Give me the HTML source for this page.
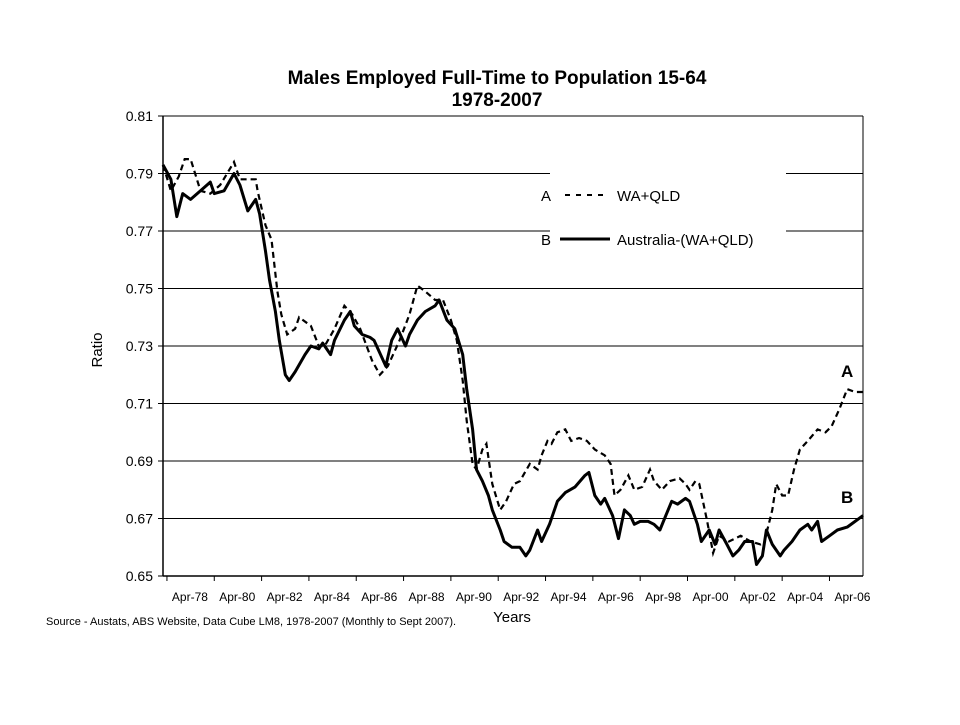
<!DOCTYPE html>
<html><head><meta charset="utf-8"><style>
body{margin:0;background:#fff;font-family:"Liberation Sans",Arial,sans-serif}
svg text{font-family:"Liberation Sans",Arial,sans-serif}
</style></head><body>
<svg width="960" height="720" viewBox="0 0 960 720">
<g id="g"></g>
</svg>
<script>
const yTicks=[0.65,0.67,0.69,0.71,0.73,0.75,0.77,0.79,0.81];
const xTickLabels=["Apr-78","Apr-80","Apr-82","Apr-84","Apr-86","Apr-88","Apr-90","Apr-92","Apr-94","Apr-96","Apr-98","Apr-00","Apr-02","Apr-04","Apr-06"];
const monthsA=[0,4,8,11,14,19,24,29,36,39,44,47,48,52,55,58,60,63,67,69,75,79,82,87,92,96,100,106,110,114,118,120,125,129,133,138,142,146,149,152,154,157,159,162,164,167,171,174,178,181,186,190,192,195,197,200,204,207,211,215,219,224,227,229,232,236,239,243,247,249,253,257,262,265,267,270,272,276,279,282,287,293,298,303,305,309,311,314,317,320,323,327,332,336,339,343,347,351,355];
const valuesA=[0.793,0.784,0.789,0.795,0.795,0.784,0.783,0.786,0.794,0.788,0.788,0.788,0.784,0.772,0.767,0.749,0.741,0.734,0.736,0.740,0.737,0.730,0.730,0.736,0.744,0.741,0.736,0.725,0.720,0.723,0.729,0.732,0.741,0.751,0.749,0.746,0.746,0.739,0.732,0.718,0.704,0.689,0.687,0.694,0.696,0.682,0.673,0.676,0.682,0.683,0.689,0.687,0.692,0.697,0.696,0.700,0.701,0.697,0.698,0.697,0.694,0.692,0.689,0.678,0.680,0.685,0.680,0.681,0.687,0.683,0.680,0.683,0.684,0.682,0.680,0.683,0.682,0.669,0.658,0.664,0.662,0.664,0.662,0.661,0.662,0.673,0.682,0.678,0.678,0.687,0.694,0.697,0.701,0.700,0.702,0.708,0.715,0.714,0.714];
const monthsB=[0,4,7,10,14,19,24,26,31,36,39,43,47,49,52,54,57,59,62,64,67,72,75,79,81,85,87,92,95,97,101,105,107,113,116,119,123,125,129,133,138,140,144,148,152,154,157,159,162,165,167,171,173,177,181,184,186,190,192,196,200,204,209,214,216,219,222,224,228,231,234,237,239,242,246,249,252,255,258,261,265,267,271,273,277,280,282,286,289,292,295,299,301,304,306,309,313,315,319,323,327,329,332,334,338,342,347,351,355];
const valuesB=[0.793,0.788,0.775,0.783,0.781,0.784,0.787,0.783,0.784,0.790,0.786,0.777,0.781,0.776,0.763,0.753,0.742,0.732,0.720,0.718,0.721,0.727,0.730,0.729,0.731,0.727,0.732,0.739,0.742,0.737,0.734,0.733,0.732,0.723,0.732,0.736,0.730,0.734,0.739,0.742,0.744,0.746,0.739,0.736,0.727,0.715,0.701,0.687,0.683,0.678,0.673,0.666,0.662,0.660,0.660,0.657,0.659,0.666,0.662,0.668,0.676,0.679,0.681,0.685,0.686,0.678,0.675,0.677,0.671,0.663,0.673,0.671,0.668,0.669,0.669,0.668,0.666,0.671,0.676,0.675,0.677,0.676,0.668,0.662,0.666,0.661,0.666,0.661,0.657,0.659,0.662,0.662,0.654,0.657,0.666,0.661,0.657,0.659,0.662,0.666,0.668,0.666,0.669,0.662,0.664,0.666,0.667,0.669,0.671];

const L=163,R=863,T=116,B=576,NM=355;
const X=m=>L+m*(R-L)/NM;
const Y=v=>T+(0.81-v)/(0.16)*(B-T);
const g=document.getElementById('g');
const NS="http://www.w3.org/2000/svg";
function mk(tag,at,txt){const e=document.createElementNS(NS,tag);for(const k in at)e.setAttribute(k,at[k]);if(txt!=null)e.textContent=txt;g.appendChild(e);return e;}

let e;
e=mk('text',{x:497,y:84,'text-anchor':'middle','font-size':19,'font-weight':'bold'},'Males Employed Full-Time to Population 15-64');


e=mk('text',{x:497,y:106,'text-anchor':'middle','font-size':19,'font-weight':'bold'},'1978-2007');



yTicks.forEach(v=>{
  e=mk('line',{x1:L,x2:R,y1:Y(v),y2:Y(v),stroke:'#000','stroke-width':1});
  
  
  e=mk('line',{x1:L-5,x2:L,y1:Y(v),y2:Y(v),stroke:'#000'});
  
  
  e=mk('text',{x:153,y:Y(v)+5,'text-anchor':'end','font-size':14},v.toFixed(2));
  
  
});
e=mk('rect',{x:550,y:166,width:236,height:86,fill:'#fff'});


e=mk('line',{x1:L,x2:L,y1:T,y2:B,stroke:'#000','stroke-width':1.5});


e=mk('line',{x1:R,x2:R,y1:T,y2:B,stroke:'#000','stroke-width':1});


e=mk('line',{x1:L,x2:R,y1:B,y2:B,stroke:'#000','stroke-width':1.5});


xTickLabels.forEach((t,i)=>{
  const m=2+i*24;
  e=mk('line',{x1:X(m),x2:X(m),y1:B,y2:B+5,stroke:'#000'});
  
  
  e=mk('text',{x:X(m)+23,y:601,'text-anchor':'middle','font-size':12},t);
  
  
});
e=mk('text',{x:512,y:622,'text-anchor':'middle','font-size':15},'Years');


e=mk('text',{x:102,y:350,'text-anchor':'middle','font-size':15,transform:'rotate(-90 102 350)'},'Ratio');


e=mk('text',{x:46,y:625,'font-size':11},'Source - Austats, ABS Website, Data Cube LM8, 1978-2007 (Monthly to Sept 2007).');



function path(ms,vs){return ms.map((m,i)=>(i?'L':'M')+X(m).toFixed(1)+' '+Y(vs[i]).toFixed(1)).join(' ');}
e=mk('path',{d:path(monthsA,valuesA),fill:'none',stroke:'#000','stroke-width':2.2,'stroke-dasharray':'6 4'});


e=mk('path',{d:path(monthsB,valuesB),fill:'none',stroke:'#000','stroke-width':3,'stroke-linejoin':'round'});



e=mk('text',{x:541,y:201,'font-size':15},'A');


e=mk('line',{x1:565,x2:606,y1:195,y2:195,stroke:'#000','stroke-width':2,'stroke-dasharray':'5 6'});


e=mk('text',{x:617,y:201,'font-size':15},'WA+QLD');


e=mk('text',{x:541,y:245,'font-size':15},'B');


e=mk('line',{x1:560,x2:610,y1:239,y2:239,stroke:'#000','stroke-width':3});


e=mk('text',{x:617,y:245,'font-size':15},'Australia-(WA+QLD)');



e=mk('text',{x:841,y:377,'font-size':17,'font-weight':'bold'},'A');


e=mk('text',{x:841,y:503,'font-size':17,'font-weight':'bold'},'B');


</script>
</body></html>
